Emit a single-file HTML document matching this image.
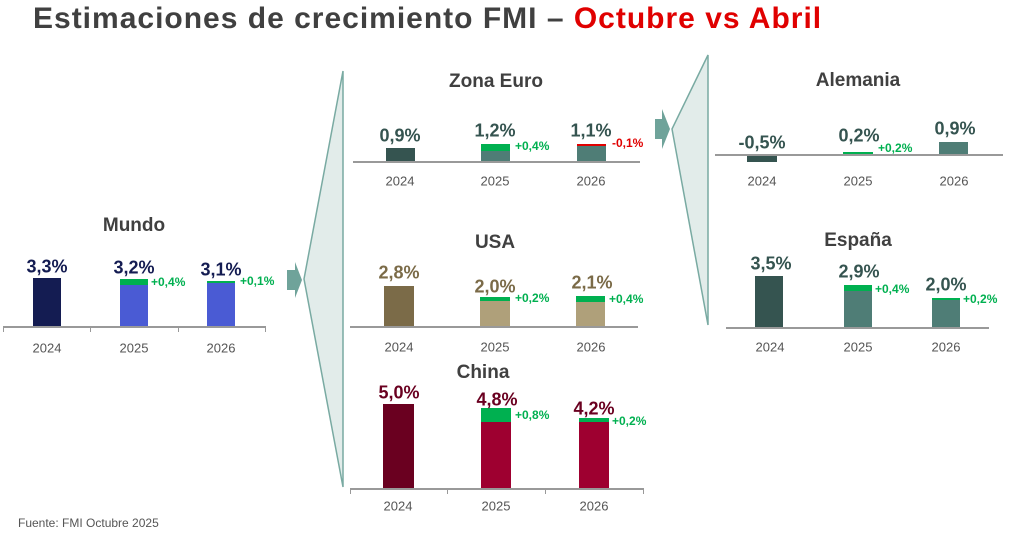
<!DOCTYPE html>
<html><head><meta charset="utf-8"><style>
*{margin:0;padding:0;box-sizing:border-box}
body{width:1024px;height:544px;background:#fff;position:relative;overflow:hidden;font-family:"Liberation Sans","DejaVu Sans",sans-serif}
.t{position:absolute;transform:translate(-50%,-50%);white-space:nowrap}
.l{position:absolute;transform:translateY(-50%);white-space:nowrap}
.h{font-size:19px;font-weight:bold;color:#404040}
.v{font-size:18px;font-weight:bold}
.y{font-size:13px;color:#555}
.d{font-size:12px;font-weight:bold;color:#00b050}
.b{position:absolute}
.ax{position:absolute;height:1.5px;background:#999}
.tk{position:absolute;width:1px;height:6px;background:#999}
</style></head><body>
<svg width="1024" height="544" style="position:absolute;left:0;top:0">
<polygon points="343,71 304,279 343,487" fill="#e2ecea" stroke="#79aaa2" stroke-width="1.5"/>
<polygon points="287,270 295,270 295,262 302,280 295,298 295,290 287,290" fill="#6fa39a"/>
<polygon points="708,55 672,129 708,325" fill="#e2ecea" stroke="#79aaa2" stroke-width="1.5"/>
<polygon points="655,119 662,119 662,109 670,129 662,149 662,139 655,139" fill="#6fa39a"/>
</svg>
<div class="l" style="left:33px;top:19px;font-size:30px;letter-spacing:1px;font-weight:bold;color:#404040">Estimaciones de crecimiento FMI – <span style="color:#e00000">Octubre vs Abril</span></div>

<!-- Mundo -->
<div class="t h" style="left:134px;top:226px">Mundo</div>
<div class="b" style="left:33px;top:278px;width:28px;height:48px;background:#141c52"></div>
<div class="b" style="left:120px;top:279px;width:28px;height:6px;background:#00b050"></div>
<div class="b" style="left:120px;top:285px;width:28px;height:41px;background:#4a5bd4"></div>
<div class="b" style="left:207px;top:281px;width:28px;height:2px;background:#00b050"></div>
<div class="b" style="left:207px;top:283px;width:28px;height:43px;background:#4a5bd4"></div>
<div class="ax" style="left:3px;top:326px;width:262px"></div>
<div class="tk" style="left:3px;top:326px"></div><div class="tk" style="left:90px;top:326px"></div><div class="tk" style="left:178px;top:326px"></div><div class="tk" style="left:265px;top:326px"></div>
<div class="t v" style="left:47px;top:267px;color:#141c52">3,3%</div>
<div class="t v" style="left:134px;top:268px;color:#141c52">3,2%</div>
<div class="t v" style="left:221px;top:270px;color:#141c52">3,1%</div>
<div class="l d" style="left:151px;top:282px">+0,4%</div>
<div class="l d" style="left:240px;top:281px">+0,1%</div>
<div class="t y" style="left:47px;top:348px">2024</div><div class="t y" style="left:134px;top:348px">2025</div><div class="t y" style="left:221px;top:348px">2026</div>

<!-- Zona Euro -->
<div class="t h" style="left:496px;top:82px">Zona Euro</div>
<div class="b" style="left:386px;top:148px;width:29px;height:13px;background:#355450"></div>
<div class="b" style="left:481px;top:144px;width:29px;height:7px;background:#00b050"></div>
<div class="b" style="left:481px;top:151px;width:29px;height:10px;background:#4f7d76"></div>
<div class="b" style="left:577px;top:144px;width:29px;height:2px;background:#e00000"></div>
<div class="b" style="left:577px;top:146px;width:29px;height:15px;background:#4f7d76"></div>
<div class="ax" style="left:353px;top:161px;width:287px"></div>
<div class="t v" style="left:400px;top:136px;color:#355450">0,9%</div>
<div class="t v" style="left:495px;top:131px;color:#355450">1,2%</div>
<div class="t v" style="left:591px;top:131px;color:#355450">1,1%</div>
<div class="l d" style="left:515px;top:146px">+0,4%</div>
<div class="l d" style="left:612px;top:143px;color:#e00000">-0,1%</div>
<div class="t y" style="left:400px;top:181px">2024</div><div class="t y" style="left:495px;top:181px">2025</div><div class="t y" style="left:591px;top:181px">2026</div>

<!-- USA -->
<div class="t h" style="left:495px;top:243px">USA</div>
<div class="b" style="left:384px;top:286px;width:30px;height:40px;background:#7b6b48"></div>
<div class="b" style="left:480px;top:297px;width:30px;height:4px;background:#00b050"></div>
<div class="b" style="left:480px;top:301px;width:30px;height:25px;background:#afa07a"></div>
<div class="b" style="left:576px;top:296px;width:29px;height:6px;background:#00b050"></div>
<div class="b" style="left:576px;top:302px;width:29px;height:24px;background:#afa07a"></div>
<div class="ax" style="left:350px;top:326px;width:288px"></div>
<div class="t v" style="left:399px;top:273px;color:#7b6b48">2,8%</div>
<div class="t v" style="left:495px;top:287px;color:#7b6b48">2,0%</div>
<div class="t v" style="left:592px;top:283px;color:#7b6b48">2,1%</div>
<div class="l d" style="left:515px;top:298px">+0,2%</div>
<div class="l d" style="left:609px;top:299px">+0,4%</div>
<div class="t y" style="left:399px;top:347px">2024</div><div class="t y" style="left:495px;top:347px">2025</div><div class="t y" style="left:591px;top:347px">2026</div>

<!-- China -->
<div class="t h" style="left:483px;top:373px">China</div>
<div class="b" style="left:383px;top:404px;width:31px;height:84px;background:#6a0020"></div>
<div class="b" style="left:481px;top:408px;width:30px;height:14px;background:#00b050"></div>
<div class="b" style="left:481px;top:422px;width:30px;height:66px;background:#9e0030"></div>
<div class="b" style="left:579px;top:418px;width:30px;height:4px;background:#00b050"></div>
<div class="b" style="left:579px;top:422px;width:30px;height:66px;background:#9e0030"></div>
<div class="ax" style="left:350px;top:488px;width:293px"></div>
<div class="tk" style="left:350px;top:488px"></div><div class="tk" style="left:447px;top:488px"></div><div class="tk" style="left:545px;top:488px"></div><div class="tk" style="left:643px;top:488px"></div>
<div class="t v" style="left:399px;top:393px;color:#6a0020">5,0%</div>
<div class="t v" style="left:497px;top:400px;color:#6a0020">4,8%</div>
<div class="t v" style="left:594px;top:409px;color:#6a0020">4,2%</div>
<div class="l d" style="left:515px;top:415px">+0,8%</div>
<div class="l d" style="left:612px;top:421px">+0,2%</div>
<div class="t y" style="left:398px;top:506px">2024</div><div class="t y" style="left:496px;top:506px">2025</div><div class="t y" style="left:594px;top:506px">2026</div>

<!-- Alemania -->
<div class="t h" style="left:858px;top:81px">Alemania</div>
<div class="b" style="left:747px;top:154px;width:30px;height:8px;background:#355450"></div>
<div class="b" style="left:843px;top:152px;width:30px;height:2px;background:#00b050"></div>
<div class="b" style="left:939px;top:142px;width:29px;height:12px;background:#4f7d76"></div>
<div class="ax" style="left:715px;top:154px;width:288px"></div>
<div class="t v" style="left:762px;top:143px;color:#355450">-0,5%</div>
<div class="t v" style="left:859px;top:136px;color:#355450">0,2%</div>
<div class="t v" style="left:955px;top:129px;color:#355450">0,9%</div>
<div class="l d" style="left:878px;top:148px">+0,2%</div>
<div class="t y" style="left:762px;top:181px">2024</div><div class="t y" style="left:858px;top:181px">2025</div><div class="t y" style="left:954px;top:181px">2026</div>

<!-- España -->
<div class="t h" style="left:858px;top:241px">España</div>
<div class="b" style="left:755px;top:276px;width:28px;height:51px;background:#355450"></div>
<div class="b" style="left:844px;top:285px;width:28px;height:6px;background:#00b050"></div>
<div class="b" style="left:844px;top:291px;width:28px;height:36px;background:#4f7d76"></div>
<div class="b" style="left:932px;top:298px;width:28px;height:2px;background:#00b050"></div>
<div class="b" style="left:932px;top:300px;width:28px;height:27px;background:#4f7d76"></div>
<div class="ax" style="left:726px;top:327px;width:263px"></div>
<div class="t v" style="left:771px;top:264px;color:#355450">3,5%</div>
<div class="t v" style="left:859px;top:272px;color:#355450">2,9%</div>
<div class="t v" style="left:946px;top:285px;color:#355450">2,0%</div>
<div class="l d" style="left:875px;top:289px">+0,4%</div>
<div class="l d" style="left:963px;top:299px">+0,2%</div>
<div class="t y" style="left:770px;top:347px">2024</div><div class="t y" style="left:858px;top:347px">2025</div><div class="t y" style="left:946px;top:347px">2026</div>

<div class="l" style="left:18px;top:523px;font-size:12px;color:#555">Fuente: FMI Octubre 2025</div>
</body></html>
